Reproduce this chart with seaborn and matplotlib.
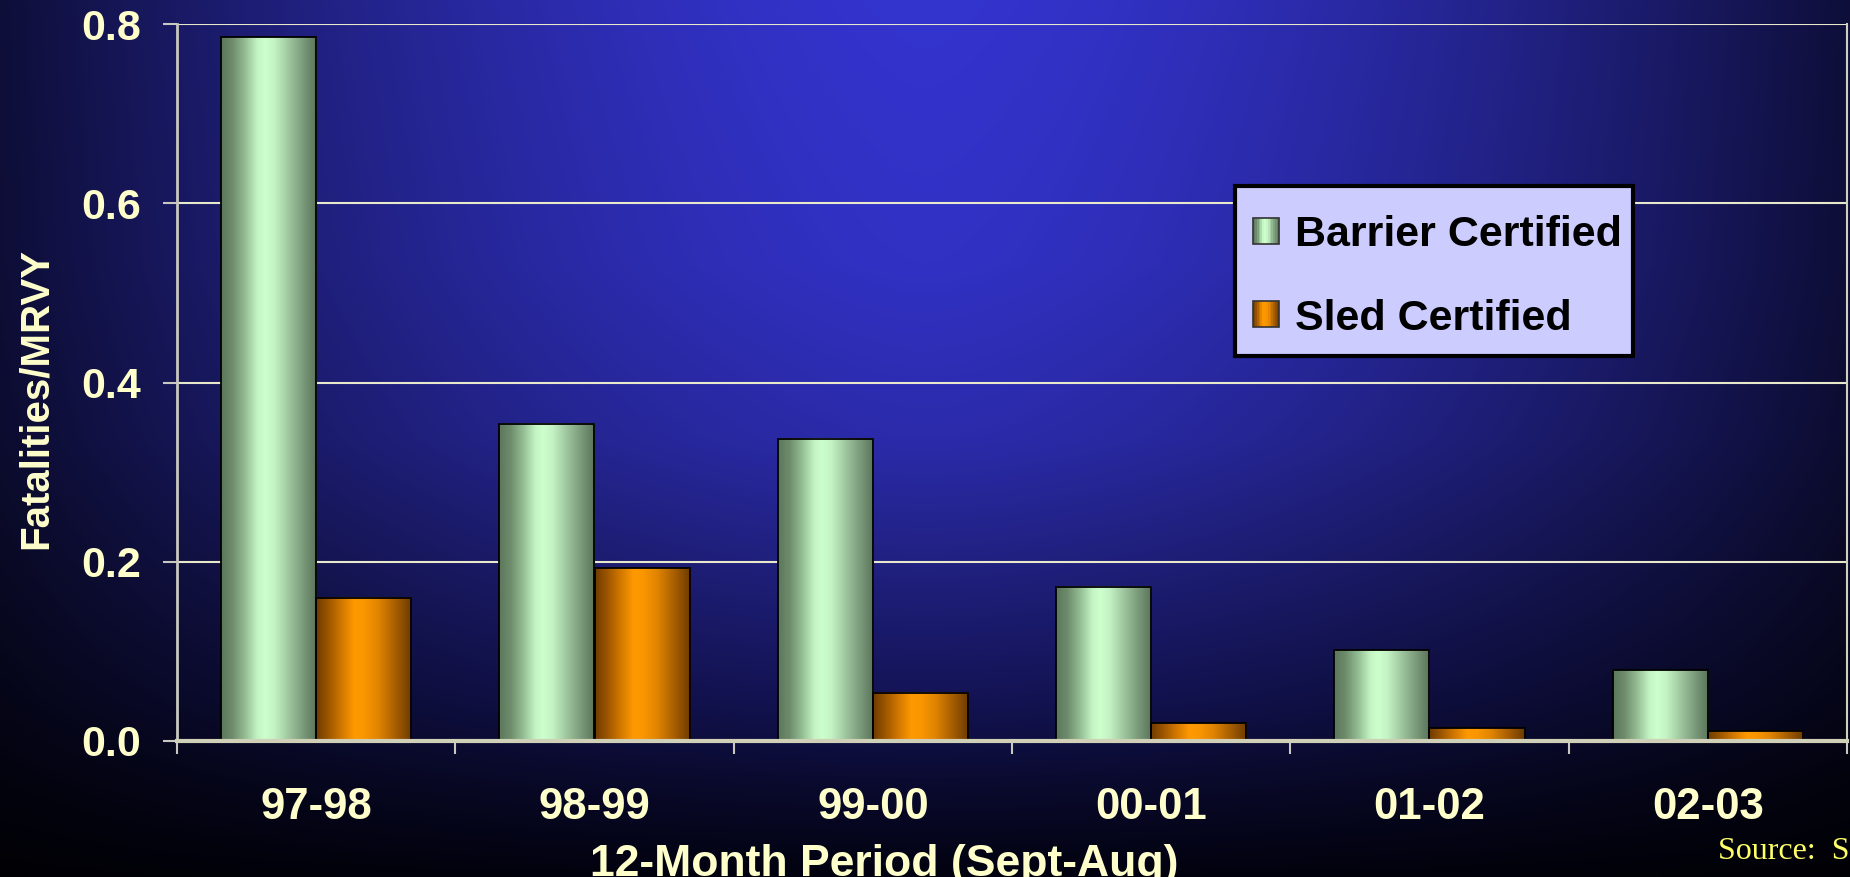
import numpy as np
import pandas as pd
import matplotlib
matplotlib.use("Agg")
import matplotlib.pyplot as plt
import seaborn as sns
from matplotlib.colors import LinearSegmentedColormap, to_rgb
from matplotlib.patches import Rectangle, Patch
from matplotlib.legend_handler import HandlerBase
from matplotlib.ticker import FixedLocator

# ---------------- data ----------------
periods = ["97-98", "98-99", "99-00", "00-01", "01-02", "02-03"]
barrier = [0.785, 0.354, 0.337, 0.172, 0.101, 0.079]
sled = [0.160, 0.193, 0.054, 0.020, 0.014, 0.011]
series_names = ["Barrier Certified", "Sled Certified"]
y_ticks = [0.0, 0.2, 0.4, 0.6, 0.8]
y_tick_labels = ["0.0", "0.2", "0.4", "0.6", "0.8"]

df = pd.DataFrame({
    "period": periods * 2,
    "value": barrier + sled,
    "type": [series_names[0]] * len(periods) + [series_names[1]] * len(periods),
})

# ---------------- style ----------------
sns.set_theme(style="white")
plt.rcParams["font.family"] = ["Liberation Sans", "DejaVu Sans"]
plt.rcParams["font.weight"] = "bold"

TXT = "#ffffcc"
W, H = 1850, 877
fig = plt.figure(figsize=(W / 100, H / 100), dpi=100)

# background gradient
bg = fig.add_axes([0, 0, 1, 1], zorder=-1)
u = np.linspace(0, 1, 400)[None, :]
v = np.linspace(0, 1, 300)[:, None]
vs = [0.0, 0.3, 0.5, 0.65, 0.8, 0.9, 1.0]
cols = np.array([to_rgb(c) for c in ["#3434cf", "#3131c4", "#2b2bab", "#20207f",
                                      "#131354", "#0a0a2e", "#020210"]])
base = np.stack([np.interp(v[:, 0], vs, cols[:, k]) for k in range(3)], axis=-1)
fh = 1 - 0.72 * np.abs(2 * u - 1) ** 1.6
img = base[:, None, :] * fh[0][None, :, None]
img = np.clip(img, 0, 1)
bg.imshow(img, extent=[0, 1, 0, 1], aspect="auto", origin="upper")
bg.set_axis_off()

ax = fig.add_axes([177 / W, 1 - 741 / H, (1847 - 177) / W, (741 - 24) / H])
ax.patch.set_alpha(0)

green_cmap = LinearSegmentedColormap.from_list("g", [
    (0, "#5c775c"), (0.12, "#6e8c6c"), (0.25, "#93bd93"), (0.38, "#c4f4c4"),
    (0.46, "#ccffcc"), (0.56, "#c4f2c4"), (0.7, "#a0c8a0"), (0.85, "#7c9c7c"),
    (1, "#5a735a")])
orange_cmap = LinearSegmentedColormap.from_list("o", [
    (0, "#6e3c00"), (0.12, "#9a5400"), (0.25, "#cc7400"), (0.4, "#ff9900"),
    (0.5, "#fa9600"), (0.65, "#e08400"), (0.82, "#aa6000"), (1, "#6b3a00")])

sns.barplot(data=df, x="period", y="value", hue="type", order=periods,
            hue_order=series_names, palette=["#aaddaa", "#ee8800"],
            width=0.685, errorbar=None, edgecolor="black", linewidth=1.3,
            legend=False, ax=ax, zorder=3)

grad = np.linspace(0, 1, 256)[None, :]
for p in list(ax.patches):
    fc = p.get_facecolor()
    x0, w_, h_ = p.get_x(), p.get_width(), p.get_height()
    if h_ <= 0:
        continue
    cmap = green_cmap if fc[1] > 0.7 else orange_cmap
    ax.imshow(grad, cmap=cmap, extent=[x0, x0 + w_, 0, h_], aspect="auto",
              zorder=2.5, interpolation="bilinear")
    p.set_facecolor("none")

ax.set_xlim(-0.5, len(periods) - 0.5)
ax.set_ylim(0, 0.8)
ax.set_aspect("auto")

# ticks
ax.set_yticks(y_ticks)
ax.set_yticklabels(y_tick_labels)
ax.tick_params(axis="y", direction="out", length=10, width=1.5, color="#c8c8c0",
               pad=16, labelsize=31, labelcolor=TXT, left=True)
ax.tick_params(axis="x", which="major", length=0, pad=33, labelsize=31.5,
               labelcolor=TXT, bottom=True)
ax.xaxis.set_minor_locator(FixedLocator(np.arange(-0.5, len(periods), 1.0)))
ax.tick_params(axis="x", which="minor", direction="out", length=9, width=1.5,
               color="#c8c8c0", bottom=True)
for lab in ax.get_xticklabels() + ax.get_yticklabels():
    lab.set_fontweight("bold")

ax.yaxis.grid(True, color="#e8e8cc", lw=1.5, zorder=0)
ax.xaxis.grid(False)
ax.set_axisbelow(True)

ax.spines["top"].set_visible(False)
ax.spines["left"].set_color("#c8c8c0")
ax.spines["left"].set_linewidth(2)
ax.spines["bottom"].set_color("#d0d0b8")
ax.spines["bottom"].set_linewidth(3)
ax.spines["bottom"].set_zorder(4)
ax.spines["right"].set_color("#d0d0c0")
ax.spines["right"].set_linewidth(1.5)

ax.set_ylabel("Fatalities/MRVY", fontsize=29, fontweight="bold", color=TXT)
ax.yaxis.set_label_coords(-0.0735, 0.478)
ax.set_xlabel("12-Month Period (Sept-Aug)", fontsize=32, fontweight="bold", color=TXT)
ax.xaxis.set_label_coords(0.4234, -0.143)


# legend with gradient swatches
class GradHandler(HandlerBase):
    def __init__(self, cmap):
        super().__init__()
        self.cmap = cmap

    def create_artists(self, legend, orig_handle, xdescent, ydescent, width,
                       height, fontsize, trans):
        n = 14
        arts = []
        for i in range(n):
            arts.append(Rectangle((-xdescent + i * width / n, -ydescent),
                                  width / n, height,
                                  fc=self.cmap((i + 0.5) / n), ec="none",
                                  transform=trans))
        arts.append(Rectangle((-xdescent, -ydescent), width, height, fc="none",
                              ec="#333333", lw=1.2, transform=trans))
        return arts


# legend frame drawn as a figure rectangle
fig.patches.append(Rectangle((1235 / W, 1 - 356 / H), (1633 - 1235) / W,
                             (356 - 186) / H, transform=fig.transFigure,
                             facecolor="#ccccff", edgecolor="black", lw=3,
                             zorder=5))

h1 = Patch(label=series_names[0])
h2 = Patch(label=series_names[1])
leg = fig.legend(handles=[h1, h2], loc="center left",
                 bbox_to_anchor=(1253 / W, 1 - 277 / H), borderaxespad=0,
                 handler_map={h1: GradHandler(green_cmap), h2: GradHandler(orange_cmap)},
                 prop={"family": ["Liberation Sans", "DejaVu Sans"], "weight": "bold", "size": 31},
                 handlelength=0.6, handleheight=0.56, handletextpad=0.38,
                 labelspacing=1.0, borderpad=0, frameon=False)
leg.set_zorder(6)
for t in leg.get_texts():
    t.set_color("black")

fig.text(1718 / W, 1 - 859 / H, "Source:  S", fontsize=23, color="#ffff66",
         family=["Liberation Serif", "DejaVu Serif"], fontweight="normal",
         va="baseline", ha="left")

fig.savefig("out.png", dpi=100)
